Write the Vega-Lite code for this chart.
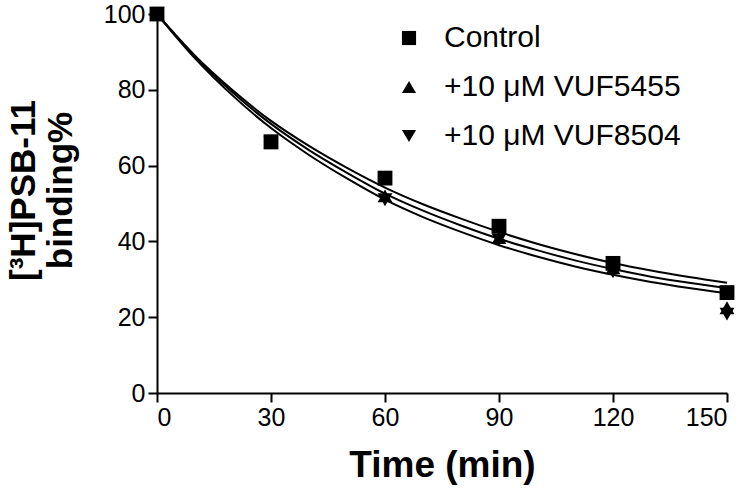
{
  "$schema": "https://vega.github.io/schema/vega-lite/v6.json",
  "width": 570,
  "height": 379,
  "autosize": "none",
  "padding": {"left": 157, "top": 14, "right": 23, "bottom": 103},
  "background": "white",
  "config": {
    "view": {"stroke": null},
    "font": "Liberation Sans",
    "axis": {"grid": false, "domainColor": "black", "tickColor": "black", "domainWidth": 2, "tickWidth": 2, "labelColor": "black", "titleColor": "black", "labelFont": "Liberation Sans", "titleFont": "Liberation Sans"}
  },
  "datasets": {
    "points": [
      {"time": 0, "value": 100, "series": "Control"},
      {"time": 30, "value": 66.3, "series": "Control"},
      {"time": 60, "value": 56.7, "series": "Control"},
      {"time": 90, "value": 44, "series": "Control"},
      {"time": 120, "value": 34.2, "series": "Control"},
      {"time": 150, "value": 26.5, "series": "Control"},
      {"time": 0, "value": 100, "series": "+10 μM VUF5455"},
      {"time": 30, "value": 66, "series": "+10 μM VUF5455"},
      {"time": 60, "value": 52, "series": "+10 μM VUF5455"},
      {"time": 90, "value": 41, "series": "+10 μM VUF5455"},
      {"time": 120, "value": 33, "series": "+10 μM VUF5455"},
      {"time": 150, "value": 22.5, "series": "+10 μM VUF5455"},
      {"time": 0, "value": 100, "series": "+10 μM VUF8504"},
      {"time": 30, "value": 66, "series": "+10 μM VUF8504"},
      {"time": 60, "value": 51, "series": "+10 μM VUF8504"},
      {"time": 90, "value": 40.4, "series": "+10 μM VUF8504"},
      {"time": 120, "value": 32, "series": "+10 μM VUF8504"},
      {"time": 150, "value": 20.8, "series": "+10 μM VUF8504"}
    ],
    "curves": [
      {"time": 0, "value": 100, "series": "Control"},
      {"time": 10, "value": 89, "series": "Control"},
      {"time": 20, "value": 79.8, "series": "Control"},
      {"time": 30, "value": 71.8, "series": "Control"},
      {"time": 40, "value": 65.2, "series": "Control"},
      {"time": 50, "value": 59.4, "series": "Control"},
      {"time": 60, "value": 54.2, "series": "Control"},
      {"time": 70, "value": 49.8, "series": "Control"},
      {"time": 80, "value": 46.0, "series": "Control"},
      {"time": 90, "value": 42.5, "series": "Control"},
      {"time": 100, "value": 39.4, "series": "Control"},
      {"time": 110, "value": 36.7, "series": "Control"},
      {"time": 120, "value": 34.3, "series": "Control"},
      {"time": 130, "value": 32.3, "series": "Control"},
      {"time": 140, "value": 30.6, "series": "Control"},
      {"time": 150, "value": 29.1, "series": "Control"},
      {"time": 0, "value": 100, "series": "+10 μM VUF5455"},
      {"time": 10, "value": 88.7, "series": "+10 μM VUF5455"},
      {"time": 20, "value": 79.2, "series": "+10 μM VUF5455"},
      {"time": 30, "value": 71.0, "series": "+10 μM VUF5455"},
      {"time": 40, "value": 64.1, "series": "+10 μM VUF5455"},
      {"time": 50, "value": 58.1, "series": "+10 μM VUF5455"},
      {"time": 60, "value": 52.6, "series": "+10 μM VUF5455"},
      {"time": 70, "value": 48.1, "series": "+10 μM VUF5455"},
      {"time": 80, "value": 44.2, "series": "+10 μM VUF5455"},
      {"time": 90, "value": 40.7, "series": "+10 μM VUF5455"},
      {"time": 100, "value": 37.7, "series": "+10 μM VUF5455"},
      {"time": 110, "value": 35.0, "series": "+10 μM VUF5455"},
      {"time": 120, "value": 32.7, "series": "+10 μM VUF5455"},
      {"time": 130, "value": 30.7, "series": "+10 μM VUF5455"},
      {"time": 140, "value": 29.1, "series": "+10 μM VUF5455"},
      {"time": 150, "value": 27.7, "series": "+10 μM VUF5455"},
      {"time": 0, "value": 100, "series": "+10 μM VUF8504"},
      {"time": 10, "value": 88.3, "series": "+10 μM VUF8504"},
      {"time": 20, "value": 78.4, "series": "+10 μM VUF8504"},
      {"time": 30, "value": 69.9, "series": "+10 μM VUF8504"},
      {"time": 40, "value": 62.8, "series": "+10 μM VUF8504"},
      {"time": 50, "value": 56.6, "series": "+10 μM VUF8504"},
      {"time": 60, "value": 51.0, "series": "+10 μM VUF8504"},
      {"time": 70, "value": 46.4, "series": "+10 μM VUF8504"},
      {"time": 80, "value": 42.5, "series": "+10 μM VUF8504"},
      {"time": 90, "value": 39.0, "series": "+10 μM VUF8504"},
      {"time": 100, "value": 36.0, "series": "+10 μM VUF8504"},
      {"time": 110, "value": 33.4, "series": "+10 μM VUF8504"},
      {"time": 120, "value": 31.2, "series": "+10 μM VUF8504"},
      {"time": 130, "value": 29.3, "series": "+10 μM VUF8504"},
      {"time": 140, "value": 27.7, "series": "+10 μM VUF8504"},
      {"time": 150, "value": 26.3, "series": "+10 μM VUF8504"}
    ]
  },
  "encoding": {
    "x": {"field": "time", "type": "quantitative", "scale": {"domain": [0, 150], "nice": false},
      "axis": {"values": [0, 30, 60, 90, 120, 150], "tickSize": 9, "labelFontSize": 25, "labelPadding": 3,
        "title": "Time (min)", "titleFontSize": 37, "titleFontWeight": "bold", "titlePadding": 17}},
    "y": {"field": "value", "type": "quantitative", "scale": {"domain": [0, 100], "nice": false},
      "axis": {"values": [0, 20, 40, 60, 80, 100], "tickSize": 9, "labelFontSize": 25, "labelPadding": 3,
        "title": ["[³H]PSB-11", "binding%"], "titleFontSize": 35, "titleFontWeight": "bold", "titlePadding": 25, "titleLineHeight": 37, "titleY": 176}}
  },
  "layer": [
    {
      "data": {"name": "curves"},
      "mark": {"type": "line", "color": "black", "strokeWidth": 2, "interpolate": "monotone"},
      "encoding": {"detail": {"field": "series"}}
    },
    {
      "data": {"name": "points"},
      "mark": {"type": "point", "filled": true, "color": "black", "opacity": 1, "size": 220},
      "encoding": {
        "shape": {"field": "series", "type": "nominal",
          "scale": {"domain": ["Control", "+10 μM VUF5455", "+10 μM VUF8504"], "range": ["square", "triangle-up", "triangle-down"]},
          "legend": {"title": null, "orient": "none", "legendX": 237, "legendY": 9, "labelFontSize": 30, "labelFont": "Liberation Sans", "labelColor": "black", "labelLimit": 400, "symbolSize": 200, "symbolFillColor": "black", "symbolStrokeColor": "black", "symbolType": "square", "rowPadding": 19, "labelOffset": 20, "padding": 0}
        }
      }
    }
  ]
}
